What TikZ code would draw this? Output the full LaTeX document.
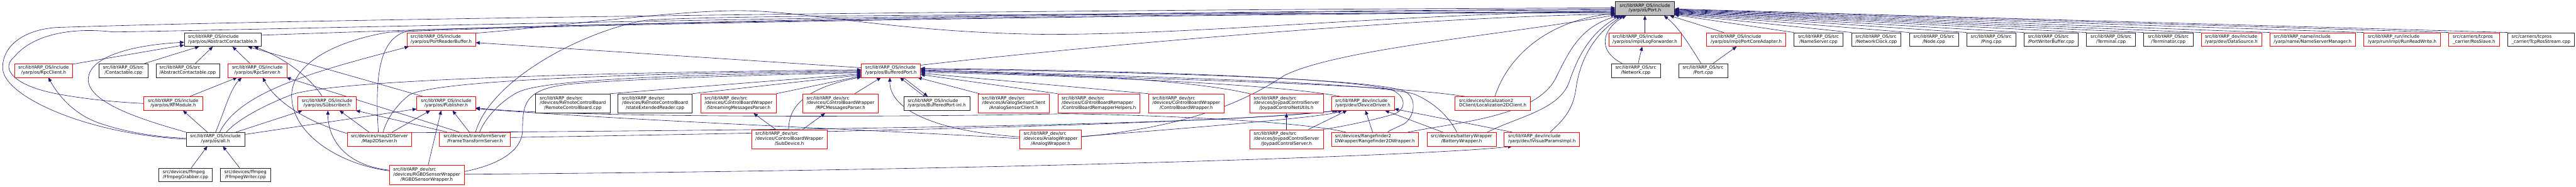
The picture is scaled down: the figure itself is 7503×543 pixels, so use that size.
\documentclass[tikz,border=0pt]{standalone}
\usepackage{fontspec}
\setmainfont{DejaVu Sans}
\usetikzlibrary{arrows.meta,backgrounds}
\definecolor{edgecol}{HTML}{191970}
\definecolor{boxred}{HTML}{FF0000}
\definecolor{rootfill}{HTML}{BFBFBF}
\definecolor{boxblack}{HTML}{202020}
\newcommand\dxfont{\fontsize{12.9pt}{14pt}\selectfont}
\newcommand\twoline[2]{\begin{tabular}{@{}l@{}}#1\\\multicolumn{1}{@{}c@{}}{#2}\end{tabular}}
\newcommand\threeline[3]{\begin{tabular}{@{}l@{}}#1\\#2\\\multicolumn{1}{@{}c@{}}{#3}\end{tabular}}
\tikzset{
  box/.style={rectangle, draw=boxblack, line width=1.1pt, fill=white, inner sep=0pt, font=\dxfont, text=black},
  rbox/.style={box, draw=boxred},
  rtwo/.style={minimum height=40pt},
  rthree/.style={minimum height=56pt},
  wd/.style={minimum width=#1pt},
  e/.style={draw=edgecol, line width=1.1pt, arrows={Triangle[length=12pt,width=10pt]-}},
}
\begin{document}
\begin{tikzpicture}[x=1pt,y=-1pt]
\useasboundingbox (0,0) rectangle (7503,543);
% ---- row 1
\node[box,rtwo,wd=172,fill=rootfill] (port) at (4791,25) {\twoline{src/libYARP\_OS/include}{/yarp/os/Port.h}};
% ---- row 2
\node[box,rtwo,wd=223] (absH) at (648.5,115) {\twoline{src/libYARP\_OS/include}{/yarp/os/AbstractContactable.h}};
\node[rbox,rtwo,wd=200] (prb) at (1285,115) {\twoline{src/libYARP\_OS/include}{/yarp/os/PortReaderBuffer.h}};
\node[rbox,rtwo,wd=210] (logf) at (4791,115) {\twoline{src/libYARP\_OS/include}{/yarp/os/impl/LogForwarder.h}};
\node[rbox,rtwo,wd=230] (pca) at (5086,115) {\twoline{src/libYARP\_OS/include}{/yarp/os/impl/PortCoreAdapter.h}};
\node[box,rtwo,wd=143] (nsc) at (5296.5,115) {\twoline{src/libYARP\_OS/src}{/NameServer.cpp}};
\node[box,rtwo,wd=144] (nclk) at (5465,115) {\twoline{src/libYARP\_OS/src}{/NetworkClock.cpp}};
\node[box,rtwo,wd=143] (nodec) at (5632.5,115) {\twoline{src/libYARP\_OS/src}{/Node.cpp}};
\node[box,rtwo,wd=143] (ping) at (5799.5,115) {\twoline{src/libYARP\_OS/src}{/Ping.cpp}};
\node[box,rtwo,wd=158] (pwb) at (5974,115) {\twoline{src/libYARP\_OS/src}{/PortWriterBuffer.cpp}};
\node[box,rtwo,wd=143] (term) at (6148.5,115) {\twoline{src/libYARP\_OS/src}{/Terminal.cpp}};
\node[box,rtwo,wd=143] (termr) at (6315.5,115) {\twoline{src/libYARP\_OS/src}{/Terminator.cpp}};
\node[rbox,rtwo,wd=176] (ds) at (6499,115) {\twoline{src/libYARP\_dev/include}{/yarp/dev/DataSource.h}};
\node[rbox,rtwo,wd=250] (nsm) at (6736,115) {\twoline{src/libYARP\_name/include}{/yarp/name/NameServerManager.h}};
\node[rbox,rtwo,wd=223] (rrw) at (6996.5,115) {\twoline{src/libYARP\_run/include}{/yarp/run/impl/RunReadWrite.h}};
\node[rbox,rtwo,wd=148] (ros) at (7206,115) {\twoline{src/carriers/tcpros}{\_carrier/RosSlave.h}};
\node[box,rtwo,wd=194] (tcp) at (7401,115) {\twoline{src/carriers/tcpros}{\_carrier/TcpRosStream.cpp}};
% ---- row 3
\node[rbox,rtwo,wd=170] (rpcc) at (127,205) {\twoline{src/libYARP\_OS/include}{/yarp/os/RpcClient.h}};
\node[box,rtwo,wd=143] (contc) at (359.5,205) {\twoline{src/libYARP\_OS/src}{/Contactable.cpp}};
\node[box,rtwo,wd=185] (absc) at (546.5,205) {\twoline{src/libYARP\_OS/src}{/AbstractContactable.cpp}};
\node[rbox,rtwo,wd=171] (rpcs) at (749.5,205) {\twoline{src/libYARP\_OS/include}{/yarp/os/RpcServer.h}};
\node[rbox,rtwo,wd=172] (bp) at (2595,205) {\twoline{src/libYARP\_OS/include}{/yarp/os/BufferedPort.h}};
\node[box,rtwo,wd=143] (netc) at (4764.5,205) {\twoline{src/libYARP\_OS/src}{/Network.cpp}};
\node[box,rtwo,wd=143] (portc) at (4960.5,205) {\twoline{src/libYARP\_OS/src}{/Port.cpp}};
% ---- row 4
\node[rbox,rtwo,wd=171] (rfm) at (504.5,301) {\twoline{src/libYARP\_OS/include}{/yarp/os/RFModule.h}};
\node[rbox,rtwo,wd=171] (sub) at (952.5,301) {\twoline{src/libYARP\_OS/include}{/yarp/os/Subscriber.h}};
\node[rbox,rtwo,wd=171] (pub) at (1299.5,301) {\twoline{src/libYARP\_OS/include}{/yarp/os/Publisher.h}};
\node[box,rthree,wd=217] (rcb) at (1668.5,301) {\threeline{src/libYARP\_dev/src}{/devices/RemoteControlBoard}{/RemoteControlBoard.cpp}};
\node[box,rthree,wd=216] (ser) at (1908,301) {\threeline{src/libYARP\_dev/src}{/devices/RemoteControlBoard}{/stateExtendedReader.cpp}};
\node[rbox,rthree,wd=220] (smp) at (2151,301) {\threeline{src/libYARP\_dev/src}{/devices/ControlBoardWrapper}{/StreamingMessagesParser.h}};
\node[rbox,rthree,wd=220] (rpcmp) at (2448,301) {\threeline{src/libYARP\_dev/src}{/devices/ControlBoardWrapper}{/RPCMessagesParser.h}};
\node[box,rtwo,wd=193] (bpinl) at (2728.5,301) {\twoline{src/libYARP\_OS/include}{/yarp/os/BufferedPort-inl.h}};
\node[rbox,rthree,wd=207] (asc) at (2952.5,301) {\threeline{src/libYARP\_dev/src}{/devices/AnalogSensorClient}{/AnalogSensorClient.h}};
\node[rbox,rthree,wd=239] (cbrh) at (3200.5,301) {\threeline{src/libYARP\_dev/src}{/devices/ControlBoardRemapper}{/ControlBoardRemapperHelpers.h}};
\node[rbox,rthree,wd=220] (cbw) at (3455,301) {\threeline{src/libYARP\_dev/src}{/devices/ControlBoardWrapper}{/ControlBoardWrapper.h}};
\node[rbox,rthree,wd=214] (jcnu) at (3747,301) {\threeline{src/libYARP\_dev/src}{/devices/JoypadControlServer}{/JoypadControlNetUtils.h}};
\node[rbox,rtwo,wd=183] (dd) at (3969.5,301) {\twoline{src/libYARP\_dev/include}{/yarp/dev/DeviceDriver.h}};
\node[rbox,rtwo,wd=220] (l2d) at (4348,301) {\twoline{src/devices/localization2}{DClient/Localization2DClient.h}};
% ---- row 5
\node[box,rtwo,wd=171] (allh) at (627.5,405) {\twoline{src/libYARP\_OS/include}{/yarp/os/all.h}};
\node[rbox,rtwo,wd=188] (m2d) at (1105,405) {\twoline{src/devices/map2DServer}{/Map2DServer.h}};
\node[rbox,rtwo,wd=206] (fts) at (1383,405) {\twoline{src/devices/transformServer}{/FrameTransformServer.h}};
\node[rbox,rthree,wd=220] (subd) at (2299,405) {\threeline{src/libYARP\_dev/src}{/devices/ControlBoardWrapper}{/SubDevice.h}};
\node[rbox,rthree,wd=180] (aw) at (3060,405) {\threeline{src/libYARP\_dev/src}{/devices/AnalogWrapper}{/AnalogWrapper.h}};
\node[rbox,rthree,wd=214] (jcs) at (3747,405) {\threeline{src/libYARP\_dev/src}{/devices/JoypadControlServer}{/JoypadControlServer.h}};
\node[rbox,rtwo,wd=253] (rf2d) at (4004.5,405) {\twoline{src/devices/Rangefinder2}{DWrapper/Rangefinder2DWrapper.h}};
\node[rbox,rtwo,wd=202] (batt) at (4257,405) {\twoline{src/devices/batteryWrapper}{/BatteryWrapper.h}};
\node[rbox,rtwo,wd=220] (ivp) at (4491,405) {\twoline{src/libYARP\_dev/include}{/yarp/dev/IVisualParamsImpl.h}};
% ---- row 6
\node[box,rtwo,wd=155] (ffg) at (540.5,509) {\twoline{src/devices/ffmpeg}{/FfmpegGrabber.cpp}};
\node[box,rtwo,wd=146] (ffw) at (715,509) {\twoline{src/devices/ffmpeg}{/FfmpegWriter.cpp}};
\node[rbox,rthree,wd=218] (rgbd) at (1243,509) {\threeline{src/libYARP\_dev/src}{/devices/RGBDSensorWrapper}{/RGBDSensorWrapper.h}};

\begin{pgfonlayer}{background}
\fill[white] (0,0) rectangle (7503,543);
% ===== edges into Port.h (west side)
\draw[e] ([yshift=2pt]port.west) .. controls (3000,28) and (900,55) .. (163,80) .. controls (60,88) and (5,140) .. (8,200) .. controls (12,280) and (250,390) .. (allh.west);
\draw[e] ([yshift=-1pt]port.west) .. controls (2500,40) and (700,88) .. (330,93) .. controls (220,80) and (100,95) .. (41,166) .. controls (0,200) and (40,250) .. (171,274) .. controls (260,290) and (350,298) .. (rfm.west);
\draw[e] ([yshift=-4pt]port.west) .. controls (3000,35) and (1500,75) .. ([yshift=-8pt]absH.north east);
\draw[e] ([yshift=-6pt]port.west) .. controls (4000,45) and (3500,100) .. (3050,100) .. controls (2600,95) and (2350,30) .. (2146,31) .. controls (1950,32) and (1600,80) .. ([yshift=-2pt]prb.north east);
\draw[e] ([yshift=-8pt]port.west) .. controls (3000,42) and (1500,75) .. (1200,88) .. controls (1110,100) and (1090,200) .. ([xshift=-3pt]m2d.north);
\draw[e] ([yshift=-10pt]port.west) .. controls (3000,45) and (1500,75) .. (1130,94) .. controls (950,125) and (840,200) .. (850,290) .. controls (860,400) and (1000,480) .. ([yshift=12pt]rgbd.west);
\draw[e] ([yshift=-12pt]port.west) .. controls (3500,40) and (2100,42) .. (1880,59) .. controls (1700,90) and (1430,230) .. ([xshift=2pt]fts.north);
\draw[e] ([yshift=-14pt]port.west) .. controls (4500,60) and (4390,170) .. ([xshift=6pt]l2d.north);
\draw[e] ([yshift=-16pt]port.west) .. controls (4200,48) and (3300,120) .. ([yshift=-5pt]bp.north east);
\draw[e] ([yshift=-18pt]port.west) .. controls (4400,100) and (3900,140) .. (3740,220) .. controls (3620,300) and (3450,370) .. ([yshift=7pt]aw.east);
% ===== edges into Port.h (bottom)
\draw[e] ([xshift=23pt]port.south west) .. controls (4640,100) and (4600,180) .. (4590,260) .. controls (4580,330) and (4540,360) .. ([xshift=24pt]ivp.north);
\draw[e] ([xshift=8pt]port.south west) .. controls (4600,80) and (4570,150) .. (4530,230) .. controls (4470,340) and (4250,355) .. ([xshift=-31pt]rf2d.north east);
\draw[e] ([xshift=15pt]port.south west) .. controls (4640,90) and (4600,150) .. (4570,240) .. controls (4540,320) and (4420,340) .. ([xshift=-26pt]batt.north east);
\draw[e] ([xshift=32pt]port.south west) .. controls (4680,75) and (4640,140) .. ([xshift=-40pt]netc.north);
\draw[e] (port.south) -- (logf.north);
\draw[e] ([xshift=-8pt]logf.south) -- ([xshift=7pt]netc.north);
\draw[e] ([xshift=-31pt]port.south east) .. controls (4890,80) and (4920,130) .. ([xshift=-6pt]portc.north);
\draw[e] ([xshift=-14pt]port.south east) -- ([xshift=50pt]pca.north west);
\draw[e] ([xshift=-28pt]pca.south) -- ([xshift=29pt]portc.north);
% ===== edges into Port.h (east side)
\draw[e] ([yshift=-18pt]port.east) -- (nsc.north west);
\draw[e] ([yshift=-16pt]port.east) -- (nclk.north west);
\draw[e] ([yshift=-14.5pt]port.east) -- (nodec.north west);
\draw[e] ([yshift=-13pt]port.east) -- (ping.north west);
\draw[e] ([yshift=-11.5pt]port.east) -- (pwb.north west);
\draw[e] ([yshift=-10pt]port.east) -- (term.north west);
\draw[e] ([yshift=-8.5pt]port.east) -- (termr.north west);
\draw[e] ([yshift=-7pt]port.east) -- (ds.north west);
\draw[e] ([yshift=-5.5pt]port.east) -- (nsm.north west);
\draw[e] ([yshift=-4pt]port.east) -- (rrw.north west);
\draw[e] ([yshift=-2.5pt]port.east) -- (ros.north west);
\draw[e] ([yshift=-1pt]port.east) -- (tcp.north west);
% ===== AbstractContactable.h
\draw[e] ([yshift=-16pt]absH.west) -- ([yshift=-2pt]rpcc.north east);
\draw[e] ([yshift=-8pt]absH.west) .. controls (400,130) and (260,160) .. (257,230) .. controls (255,300) and (420,350) .. (allh.north west);
\draw[e] ([xshift=-68.5pt]absH.south) -- ([xshift=62pt]contc.north);
\draw[e] ([xshift=-28.5pt]absH.south) -- ([xshift=22.5pt]absc.north);
\draw[e] ([xshift=28.5pt]absH.south) -- ([xshift=-21.5pt]rpcs.north);
\draw[e] ([xshift=73.5pt]absH.south) -- ([xshift=18pt]pub.north west);
\draw[e] ([xshift=91.5pt]absH.south) .. controls (820,165) and (900,220) .. ([xshift=-14pt]sub.north);
% ===== RpcClient.h / RpcServer.h / RFModule.h
\draw[e] ([xshift=14pt]rpcc.south) .. controls (165,270) and (210,330) .. (286,357) .. controls (380,390) and (480,400) .. ([yshift=3pt]allh.west);
\draw[e] ([xshift=-58.5pt]rpcs.south) -- ([xshift=48.5pt]rfm.north);
\draw[e] ([xshift=-45.5pt]rpcs.south) .. controls (670,260) and (655,320) .. ([xshift=0.5pt]allh.north);
\draw[e] ([xshift=15.5pt]rpcs.south) .. controls (800,290) and (880,350) .. ([yshift=17pt]m2d.west);
\draw[e] ([xshift=-1pt]rpcs.south east) -- ([xshift=-45pt]fts.north);
\draw[e] ([xshift=28.5pt]rfm.south) -- ([xshift=-23.5pt]allh.north);
% ===== PortReaderBuffer.h
\draw[e] ([xshift=6pt]prb.south west) .. controls (950,200) and (700,260) .. ([xshift=12.5pt]allh.north);
\draw[e] ([yshift=-9pt]prb.east) -- ([yshift=8pt]bp.west);
% ===== Subscriber.h
\draw[e] ([xshift=-71.5pt]sub.south) -- ([xshift=59.5pt]allh.north);
\draw[e] ([xshift=36.5pt]sub.south) -- ([xshift=-30pt]m2d.north);
\draw[e] ([xshift=2.5pt]sub.south) .. controls (955,400) and (1000,480) .. ([yshift=14pt]rgbd.west);
\draw[e] ([xshift=-2pt]sub.south east) -- ([xshift=23pt]fts.north west);
% ===== Publisher.h
\draw[e] ([yshift=-16pt]pub.west) -- ([yshift=14pt]allh.east);
\draw[e] ([xshift=-46.5pt]pub.south) -- ([xshift=37pt]m2d.north);
\draw[e] ([xshift=-14.5pt]pub.south) -- ([xshift=4pt]rgbd.north);
\draw[e] ([xshift=18.5pt]pub.south) -- ([xshift=-16pt]fts.north);
\draw[e] ([yshift=-13pt]pub.east) .. controls (1700,345) and (2700,340) .. (3100,331) .. controls (3400,335) and (3800,355) .. ([xshift=42pt]rf2d.north west);
\draw[e] ([yshift=-15pt]pub.east) .. controls (1900,355) and (2500,375) .. ([yshift=2pt]aw.west);
% ===== DeviceDriver.h
\draw[e] ([xshift=15pt]dd.south west) .. controls (3500,370) and (2000,380) .. ([yshift=19pt]m2d.east);
\draw[e] ([xshift=22pt]dd.south west) .. controls (3500,365) and (2200,388) .. ([yshift=5pt]fts.east);
\draw[e] ([xshift=32pt]dd.south west) .. controls (3860,340) and (3500,370) .. ([yshift=8pt]aw.east);
\draw[e] ([xshift=46pt]dd.south west) -- ([xshift=64pt]jcs.north);
\draw[e] ([xshift=7.5pt]dd.south) -- ([xshift=-6.5pt]rf2d.north);
\draw[e] ([xshift=64.5pt]dd.south) -- ([xshift=-55pt]batt.north);
\draw[e] ([yshift=-16pt]dd.east) -- ([xshift=24pt]ivp.north west);
% ===== BufferedPort.h (left side)
\draw[e] ([yshift=2pt]bp.west) .. controls (1800,210) and (1000,230) .. (853,274) .. controls (760,310) and (690,350) .. ([xshift=31.5pt]allh.north);
\draw[e] ([yshift=-1pt]bp.west) .. controls (1700,215) and (1250,240) .. (1191,277) .. controls (1150,310) and (1125,350) .. ([xshift=11pt]m2d.north);
\draw[e] ([yshift=-4pt]bp.west) .. controls (1800,220) and (1560,240) .. (1505,270) .. controls (1450,300) and (1410,350) .. ([xshift=14pt]fts.north);
\draw[e] ([yshift=-7pt]bp.west) .. controls (2300,215) and (1800,230) .. (1648,246) .. controls (1530,262) and (1522,300) .. (1522,380) .. controls (1520,440) and (1450,480) .. ([yshift=10pt]rgbd.east);
\draw[e] ([yshift=-10pt]bp.west) -- (rcb.north east);
\draw[e] ([yshift=-13pt]bp.west) -- (ser.north east);
\draw[e] ([yshift=-16pt]bp.west) -- (smp.north east);
\draw[e] ([yshift=-19pt]bp.west) .. controls (2380,250) and (2297,290) .. ([xshift=-2pt]subd.north);
% ===== BufferedPort.h (bottom)
\draw[e] ([xshift=-29pt]bp.south) -- ([xshift=-69pt]rpcmp.north east);
\draw[e] ([xshift=26pt]bp.south) -- ([xshift=-36.5pt]bpinl.north);
\draw[e] ([xshift=-26.5pt]bpinl.north) -- ([xshift=36pt]bp.south);
\draw[e] ([xshift=-9pt]bp.south east) -- ([xshift=4pt]asc.north west);
\draw[e] ([xshift=-3pt]bp.south) .. controls (2590,310) and (2700,380) .. ([yshift=7pt]aw.west);
% ===== BufferedPort.h (right side)
\draw[e] ([yshift=-12pt]bp.east) -- (cbrh.north west);
\draw[e] ([yshift=-8pt]bp.east) -- (cbw.north west);
\draw[e] ([yshift=-2pt]bp.east) .. controls (3200,215) and (3500,240) .. (jcnu.north west);
\draw[e] ([yshift=-5pt]bp.east) .. controls (3300,225) and (3750,250) .. ([xshift=26pt]dd.north west);
\draw[e] ([yshift=0pt]bp.east) .. controls (3300,230) and (4000,240) .. ([xshift=29pt]l2d.north west);
\draw[e] ([yshift=6pt]bp.east) .. controls (3300,205) and (3900,225) .. (4050,260) .. controls (4100,280) and (4095,320) .. (4060,332) .. controls (4000,350) and (3900,370) .. (jcs.north east);
\draw[e] ([yshift=4pt]bp.east) .. controls (3400,210) and (4000,230) .. (4090,265) .. controls (4130,285) and (4120,340) .. (4090,360) .. controls (4060,375) and (4045,380) .. ([xshift=37.5pt]rf2d.north);
\draw[e] ([yshift=2pt]bp.east) .. controls (3400,225) and (4000,240) .. (4120,274) .. controls (4180,300) and (4220,340) .. ([xshift=-14pt]batt.north);
% ===== message parsers, joypad
\draw[e] ([xshift=44pt]smp.south) -- ([xshift=71pt]subd.north west);
\draw[e] ([xshift=-45pt]rpcmp.south) -- ([xshift=39pt]subd.north);
\draw[e] (jcnu.south) -- (jcs.north);
% ===== IVisualParamsImpl.h
\draw[e] ([xshift=24pt]ivp.south west) .. controls (4200,450) and (3000,495) .. ([yshift=2pt]rgbd.east);
% ===== all.h
\draw[e] ([xshift=-23.5pt]allh.south) -- ([xshift=16.5pt]ffg.north);
\draw[e] ([xshift=21.5pt]allh.south) -- ([xshift=-17pt]ffw.north);
\end{pgfonlayer}
\end{tikzpicture}
\end{document}
